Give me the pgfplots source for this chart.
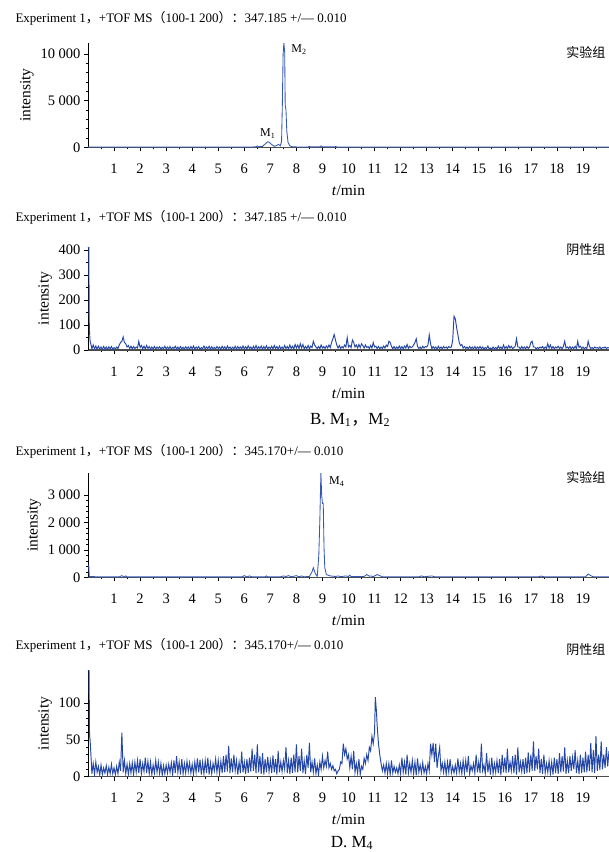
\documentclass[border=0pt]{standalone}
\usepackage{fontspec}
\setmainfont{Liberation Serif}
\newfontfamily\cjk{Noto Sans CJK SC}
\usepackage{pgfplots}
\pgfplotsset{compat=1.18}
\definecolor{msblue}{HTML}{3558B8}
\definecolor{msdark}{HTML}{2446A6}
\pgfplotsset{chrom/.style={scale only axis, width=521pt, axis lines*=left,
  xmin=0, xmax=20, ymin=0, xtick={1,...,19}, minor xtick={0.5,1.5,...,19.5},
  scaled y ticks=false,
  tick align=outside, major tick length=4pt, minor tick length=2pt,
  tick style={black, line width=0.6pt},
  x axis line style={black!70, line width=1.2pt}, y axis line style={black, line width=0.8pt},
  tick label style={font=\fontsize{14.5}{16}\selectfont},
  xticklabel style={yshift=-9pt},
  label style={font=\fontsize{15.5}{17}\selectfont},
  xlabel style={at={(axis description cs:0.5,0)}, anchor=center, yshift=-43pt},
  /pgf/number format/assume math mode=true,
  xlabel={\textit{t}/min}, ylabel={intensity}},
  trace/.style={msblue, line width=0.85pt, mark=none},
  noise/.style={msdark, line width=0.95pt, mark=none}}

\begin{document}
\begin{tikzpicture}[x=1pt,y=1pt]
\useasboundingbox (0,0) rectangle (609,-852);
\tikzset{ttl/.style={anchor=west, font=\fontsize{13}{15}\selectfont},
  grp/.style={anchor=east, font=\cjk\fontsize{13}{15}\selectfont},
  capt/.style={font=\fontsize{17}{19}\selectfont}}

% A: experiment, M1 / M2
\node[ttl] at (12,-18) {Experiment 1{\cjk ，}+TOF MS{\cjk （}100-1 200{\cjk ）：}347.185 +/— 0.010};
\begin{axis}[chrom, height=104.6pt, at={(88pt,-147.3pt)}, anchor=south west, ymax=11200,
  ytick={0,5000,10000}, yticklabels={0,5\ 000,10\ 000}, minor y tick num=4]
\addplot[trace] coordinates {(0,30) (2,35) (4,30) (6.3,30) (6.45,60) (6.5,150) (6.55,60) (6.7,100)
  (6.8,350) (6.9,600) (6.95,550) (7.05,300) (7.15,100) (7.25,200) (7.32,320) (7.38,150)
  (7.43,600) (7.46,4500) (7.49,10000) (7.52,11150) (7.55,10200) (7.57,4500) (7.6,4000)
  (7.63,1800) (7.68,500) (7.75,150) (7.85,60) (8.0,40) (8.45,40) (8.5,100) (8.55,40)
  (8.9,50) (8.95,150) (9.0,60) (9.45,40) (9.5,90) (9.55,40) (12,35) (16,30) (20,30)};
\node[font=\fontsize{12}{14}\selectfont] at (axis cs:6.9,1500) {M\textsubscript{1}};
\node[font=\fontsize{12}{14}\selectfont] at (axis cs:8.1,10500) {M\textsubscript{2}};
\end{axis}
\node[grp] at (609,-52) {实验组};

% B: negative, M1 / M2
\node[ttl] at (12,-217) {Experiment 1{\cjk ，}+TOF MS{\cjk （}100-1 200{\cjk ）：}347.185 +/— 0.010};
\begin{axis}[chrom, height=103.3pt, at={(88pt,-350pt)}, anchor=south west, ymax=413,
  ytick={0,100,200,300,400}, minor y tick num=1]
\addplot[noise] coordinates {(0,410) (0.03,410) (0.05,90) (0.08,35)
  (0.1,28) (0.15,5) (0.2,20) (0.25,4) (0.3,16) (0.35,3) (0.4,15) (0.45,5) (0.5,12) (0.55,3) (0.6,14) (0.65,4) (0.7,12) (0.75,2) (0.8,13) (0.85,5) (0.9,14) (0.95,3) (1.0,10)
  (1.05,4) (1.1,12) (1.15,5) (1.2,20) (1.25,30) (1.3,35) (1.35,52) (1.4,30) (1.45,25) (1.5,12) (1.55,18) (1.6,6) (1.65,15) (1.7,5) (1.75,14) (1.8,6) (1.85,12) (1.9,8) (1.95,35) (2.0,10)
  (2.05,18) (2.1,5) (2.15,15) (2.2,4) (2.25,18) (2.3,6) (2.35,14) (2.4,3) (2.45,12) (2.5,5) (2.55,14) (2.6,4) (2.65,12) (2.7,6) (2.75,13) (2.8,4) (2.85,11) (2.9,5) (2.95,15) (3.0,4)
  (3.05,12) (3.1,5) (3.15,14) (3.2,3) (3.25,11) (3.3,6) (3.35,15) (3.4,4) (3.45,12) (3.5,3) (3.55,14) (3.6,5) (3.65,11) (3.7,4) (3.75,13) (3.8,6) (3.85,12) (3.9,3) (3.95,14) (4.0,5)
  (4.05,16) (4.1,4) (4.15,12) (4.2,6) (4.25,14) (4.3,3) (4.35,10) (4.4,5) (4.45,16) (4.5,4) (4.55,12) (4.6,6) (4.65,15) (4.7,3) (4.75,13) (4.8,5) (4.85,11) (4.9,4) (4.95,14) (5.0,6)
  (5.05,12) (5.1,4) (5.15,15) (5.2,5) (5.25,13) (5.3,3) (5.35,16) (5.4,6) (5.45,12) (5.5,4) (5.55,11) (5.6,5) (5.65,15) (5.7,3) (5.75,14) (5.8,6) (5.85,12) (5.9,4) (5.95,16) (6.0,5)
  (6.05,13) (6.1,4) (6.15,17) (6.2,6) (6.25,12) (6.3,3) (6.35,15) (6.4,5) (6.45,18) (6.5,4) (6.55,13) (6.6,6) (6.65,16) (6.7,3) (6.75,14) (6.8,5) (6.85,17) (6.9,4) (6.95,12) (7.0,6)
  (7.05,15) (7.1,4) (7.15,18) (7.2,6) (7.25,14) (7.3,3) (7.35,16) (7.4,5) (7.45,12) (7.5,4) (7.55,18) (7.6,6) (7.65,14) (7.7,5) (7.75,20) (7.8,6) (7.85,15) (7.9,4) (7.95,22) (8.0,8)
  (8.05,20) (8.1,6) (8.15,25) (8.2,8) (8.25,22) (8.3,5) (8.35,14) (8.4,6) (8.45,18) (8.5,4) (8.55,16) (8.6,10) (8.65,35) (8.7,20) (8.75,12) (8.8,6) (8.85,14) (8.9,5) (8.95,20) (9.0,8)
  (9.05,14) (9.1,6) (9.15,16) (9.2,8) (9.25,20) (9.3,10) (9.35,30) (9.4,45) (9.45,62) (9.5,40) (9.55,20) (9.6,8) (9.65,18) (9.7,6) (9.75,14) (9.8,8) (9.85,20) (9.9,12) (9.95,50) (10.0,12)
  (10.05,18) (10.1,10) (10.15,40) (10.2,30) (10.25,12) (10.3,20) (10.35,8) (10.4,22) (10.45,10) (10.5,25) (10.55,18) (10.6,8) (10.65,20) (10.7,10) (10.75,14) (10.8,6) (10.85,18) (10.9,8) (10.95,30) (11.0,12)
  (11.05,15) (11.1,6) (11.15,14) (11.2,5) (11.25,12) (11.3,6) (11.35,16) (11.4,8) (11.45,20) (11.5,14) (11.55,35) (11.6,30) (11.65,15) (11.7,5) (11.75,14) (11.8,4) (11.85,12) (11.9,6) (11.95,16) (12.0,5)
  (12.05,14) (12.1,4) (12.15,16) (12.2,8) (12.25,22) (12.3,6) (12.35,15) (12.4,10) (12.45,12) (12.5,20) (12.55,30) (12.6,45) (12.65,14) (12.7,6) (12.75,12) (12.8,4) (12.85,15) (12.9,8) (12.95,14) (13.0,12)
  (13.05,20) (13.1,60) (13.15,25) (13.2,5) (13.25,14) (13.3,6) (13.35,12) (13.4,4) (13.45,15) (13.5,6) (13.55,12) (13.6,5) (13.65,14) (13.7,8) (13.75,12) (13.8,6) (13.85,14) (13.9,10) (13.95,12) (14.0,40)
  (14.05,135) (14.1,125) (14.15,90) (14.2,60) (14.25,30) (14.3,18) (14.35,22) (14.4,8) (14.45,14) (14.5,6) (14.55,12) (14.6,5) (14.65,14) (14.7,6) (14.75,12) (14.8,4) (14.85,14) (14.9,5) (14.95,12) (15.0,6)
  (15.05,14) (15.1,5) (15.15,12) (15.2,4) (15.25,10) (15.3,6) (15.35,16) (15.4,4) (15.45,8) (15.5,3) (15.55,12) (15.6,5) (15.65,10) (15.7,4) (15.75,16) (15.8,6) (15.85,12) (15.9,4) (15.95,20) (16.0,6)
  (16.05,14) (16.1,5) (16.15,18) (16.2,8) (16.25,15) (16.3,6) (16.35,10) (16.4,15) (16.45,45) (16.5,12) (16.55,12) (16.6,4) (16.65,14) (16.7,6) (16.75,12) (16.8,5) (16.85,14) (16.9,6) (16.95,12) (17.0,30)
  (17.05,35) (17.1,12) (17.15,12) (17.2,4) (17.25,10) (17.3,6) (17.35,12) (17.4,8) (17.45,14) (17.5,5) (17.55,12) (17.6,6) (17.65,25) (17.7,8) (17.75,20) (17.8,6) (17.85,14) (17.9,5) (17.95,12) (18.0,8)
  (18.05,15) (18.1,6) (18.15,12) (18.2,5) (18.25,14) (18.3,35) (18.35,8) (18.4,12) (18.45,6) (18.5,14) (18.55,5) (18.6,12) (18.65,6) (18.7,15) (18.75,5) (18.8,35) (18.85,10) (18.9,15) (18.95,6) (19.0,12)
  (19.05,5) (19.1,10) (19.15,6) (19.2,35) (19.25,15) (19.3,6) (19.35,10) (19.4,5) (19.45,12) (19.5,8) (19.55,10) (19.6,6) (19.65,12) (19.7,5) (19.75,10) (19.8,8) (19.85,12) (19.9,6) (19.95,10) (20.0,8)};
\end{axis}
\node[grp] at (609,-250) {阴性组};
\node[capt] at (350,-420) {B. M\textsubscript{1}{\cjk ，}M\textsubscript{2}};

% C: experiment, M4
\node[ttl] at (12,-451) {Experiment 1{\cjk ，}+TOF MS{\cjk （}100-1 200{\cjk ）：}345.170+/— 0.010};
\begin{axis}[chrom, height=104.6pt, at={(88pt,-577.3pt)}, anchor=south west, ymax=3820,
  ytick={0,1000,2000,3000}, yticklabels={0,1\ 000,2\ 000,3\ 000}, minor y tick num=4]
\addplot[trace] coordinates {(0,420) (0.03,420) (0.05,30) (0.5,15) (1.2,15) (1.3,60) (1.38,15) (1.45,50)
  (1.5,15) (5.9,15) (6.0,60) (6.1,15) (6.2,50) (6.3,15) (6.8,15) (6.85,50) (6.9,15) (7.4,20)
  (7.5,50) (7.6,30) (7.7,60) (7.8,20) (8.0,60) (8.1,20) (8.2,50) (8.3,20) (8.5,30) (8.6,200)
  (8.65,350) (8.72,150) (8.8,30) (8.86,800) (8.9,2100) (8.94,3800) (8.97,3000) (9.0,2700)
  (9.03,2700) (9.06,1100) (9.09,350) (9.15,100) (9.3,50) (9.5,30) (9.6,50) (9.7,25) (9.9,50)
  (10.0,30) (10.05,80) (10.1,25) (10.6,30) (10.7,100) (10.8,40) (10.85,50) (10.95,25) (11.1,100)
  (11.2,60) (11.3,20) (12.7,20) (12.8,50) (12.9,20) (13.2,50) (13.3,20) (15,20) (17.3,20) (17.4,45)
  (17.5,20) (19.1,20) (19.2,120) (19.3,60) (19.4,20) (20,20)};
\node[font=\fontsize{12}{14}\selectfont] at (axis cs:9.55,3500) {M\textsubscript{4}};
\end{axis}
\node[grp] at (609,-477) {实验组};

% D: negative, M4
\node[ttl] at (12,-645) {Experiment 1{\cjk ，}+TOF MS{\cjk （}100-1 200{\cjk ）：}345.170+/— 0.010};
\begin{axis}[chrom, height=106.7pt, at={(88pt,-776.7pt)}, anchor=south west, ymax=145,
  ytick={0,50,100}, minor y tick num=4]
\addplot[noise] coordinates {(0,144) (0.04,144) (0.06,55) (0.08,50)
  (0.1,38) (0.15,4) (0.2,18) (0.25,3) (0.3,20) (0.35,6) (0.4,14) (0.45,2) (0.5,16) (0.55,3) (0.6,12) (0.65,5) (0.7,15) (0.75,3) (0.8,13) (0.85,4) (0.9,17) (0.95,4) (1.0,12)
  (1.05,3) (1.1,14) (1.15,4) (1.2,20) (1.25,8) (1.3,60) (1.35,6) (1.4,22) (1.45,4) (1.5,17) (1.55,3) (1.6,18) (1.65,5) (1.7,19) (1.75,3) (1.8,20) (1.85,6) (1.9,22) (1.95,5) (2.0,24)
  (2.05,4) (2.1,18) (2.15,7) (2.2,26) (2.25,5) (2.3,21) (2.35,4) (2.4,20) (2.45,3) (2.5,16) (2.55,5) (2.6,22) (2.65,6) (2.7,20) (2.75,4) (2.8,18) (2.85,2) (2.9,15) (2.95,4) (3.0,16)
  (3.05,5) (3.1,17) (3.15,6) (3.2,19) (3.25,3) (3.3,22) (3.35,5) (3.4,28) (3.45,6) (3.5,20) (3.55,3) (3.6,24) (3.65,4) (3.7,18) (3.75,5) (3.8,21) (3.85,7) (3.9,19) (3.95,5) (4.0,17)
  (4.05,3) (4.1,20) (4.15,6) (4.2,25) (4.25,6) (4.3,23) (4.35,3) (4.4,20) (4.45,4) (4.5,22) (4.55,5) (4.6,26) (4.65,3) (4.7,19) (4.75,4) (4.8,18) (4.85,8) (4.9,24) (4.95,6) (5.0,22)
  (5.05,4) (5.1,21) (5.15,5) (5.2,28) (5.25,6) (5.3,30) (5.35,7) (5.4,42) (5.45,5) (5.5,25) (5.55,6) (5.6,30) (5.65,8) (5.7,22) (5.75,3) (5.8,20) (5.85,5) (5.9,34) (5.95,6) (6.0,20)
  (6.05,4) (6.1,24) (6.15,5) (6.2,26) (6.25,7) (6.3,38) (6.35,8) (6.4,30) (6.45,5) (6.5,44) (6.55,6) (6.6,28) (6.65,4) (6.7,32) (6.75,3) (6.8,24) (6.85,6) (6.9,27) (6.95,7) (7.0,22)
  (7.05,5) (7.1,29) (7.15,6) (7.2,24) (7.25,3) (7.3,35) (7.35,6) (7.4,20) (7.45,7) (7.5,22) (7.55,10) (7.6,40) (7.65,5) (7.7,22) (7.75,4) (7.8,26) (7.85,5) (7.9,30) (7.95,6) (8.0,44)
  (8.05,6) (8.1,28) (8.15,8) (8.2,38) (8.25,5) (8.3,22) (8.35,4) (8.4,30) (8.45,12) (8.5,46) (8.55,6) (8.6,20) (8.65,6) (8.7,25) (8.75,4) (8.8,16) (8.85,3) (8.9,20) (8.95,10) (9.0,28)
  (9.05,12) (9.1,22) (9.15,14) (9.2,34) (9.25,12) (9.3,18) (9.35,10) (9.4,15) (9.45,8) (9.5,10) (9.55,4) (9.6,8) (9.65,10) (9.7,20) (9.75,18) (9.8,45) (9.85,30) (9.9,38) (9.95,24) (10.0,30)
  (10.05,12) (10.1,28) (10.15,10) (10.2,35) (10.25,6) (10.3,18) (10.35,5) (10.4,24) (10.45,3) (10.5,14) (10.55,10) (10.6,25) (10.65,18) (10.7,30) (10.75,22) (10.8,40) (10.85,35) (10.9,55) (10.95,45) (11.0,60)
  (11.03,108) (11.07,90) (11.1,70) (11.15,45) (11.2,30) (11.25,18) (11.3,8) (11.35,16) (11.4,5) (11.45,18) (11.5,4) (11.55,18) (11.6,3) (11.65,22) (11.7,5) (11.75,14) (11.8,6) (11.85,12) (11.9,4) (11.95,16) (12.0,4)
  (12.05,26) (12.1,6) (12.15,20) (12.2,3) (12.25,30) (12.3,5) (12.35,18) (12.4,6) (12.45,22) (12.5,4) (12.55,20) (12.6,2) (12.65,25) (12.7,6) (12.75,16) (12.8,5) (12.85,19) (12.9,5) (12.95,14) (13.0,4)
  (13.05,18) (13.1,8) (13.15,45) (13.2,30) (13.25,46) (13.3,20) (13.35,45) (13.4,12) (13.45,28) (13.5,40) (13.55,8) (13.6,18) (13.65,6) (13.7,20) (13.75,3) (13.8,20) (13.85,6) (13.9,24) (13.95,5) (14.0,14)
  (14.05,5) (14.1,16) (14.15,5) (14.2,25) (14.25,6) (14.3,18) (14.35,4) (14.4,22) (14.45,5) (14.5,22) (14.55,6) (14.6,28) (14.65,4) (14.7,15) (14.75,8) (14.8,18) (14.85,5) (14.9,30) (14.95,6) (15.0,20)
  (15.05,5) (15.1,45) (15.15,8) (15.2,16) (15.25,4) (15.3,32) (15.35,6) (15.4,20) (15.45,3) (15.5,26) (15.55,4) (15.6,18) (15.65,6) (15.7,22) (15.75,5) (15.8,24) (15.85,2) (15.9,30) (15.95,6) (16.0,26)
  (16.05,5) (16.1,38) (16.15,6) (16.2,20) (16.25,8) (16.3,28) (16.35,5) (16.4,30) (16.45,3) (16.5,40) (16.55,6) (16.6,20) (16.65,7) (16.7,24) (16.75,4) (16.8,26) (16.85,5) (16.9,33) (16.95,6) (17.0,30)
  (17.05,8) (17.1,48) (17.15,8) (17.2,28) (17.25,10) (17.3,38) (17.35,5) (17.4,24) (17.45,4) (17.5,30) (17.55,5) (17.6,18) (17.65,6) (17.7,22) (17.75,4) (17.8,20) (17.85,3) (17.9,26) (17.95,5) (18.0,24)
  (18.05,4) (18.1,32) (18.15,6) (18.2,28) (18.25,7) (18.3,40) (18.35,4) (18.4,22) (18.45,5) (18.5,28) (18.55,8) (18.6,26) (18.65,10) (18.7,36) (18.75,5) (18.8,22) (18.85,4) (18.9,30) (18.95,5) (19.0,26)
  (19.05,6) (19.1,34) (19.15,6) (19.2,30) (19.25,8) (19.3,46) (19.35,6) (19.4,36) (19.45,5) (19.5,55) (19.55,8) (19.6,30) (19.65,9) (19.7,48) (19.75,10) (19.8,30) (19.85,12) (19.9,40) (19.95,14) (20.0,35)};
\end{axis}
\node[grp] at (609,-650) {阴性组};
\node[capt] at (352,-843) {D. M\textsubscript{4}};
\end{tikzpicture}
\end{document}
